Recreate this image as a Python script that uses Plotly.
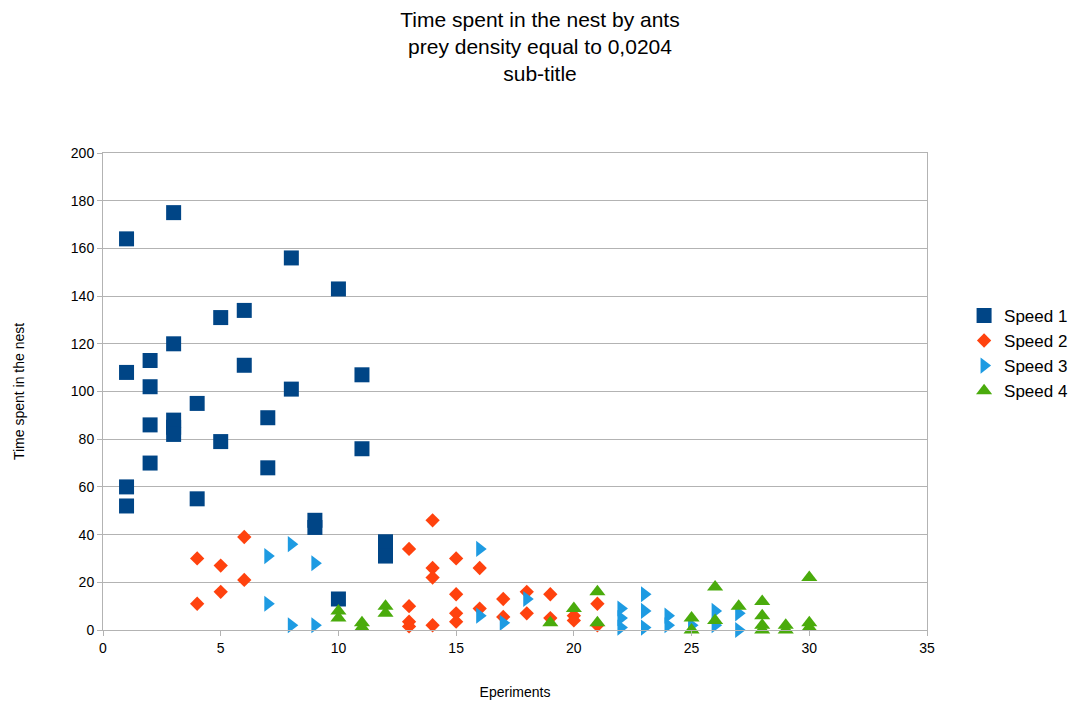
import plotly.graph_objects as go

# ---- data ----
speed1_x = [1, 1, 1, 1, 2, 2, 2, 2, 3, 3, 3, 3, 3, 4, 4, 5, 5, 6, 6, 7, 7, 8, 8, 9, 9, 10, 10, 11, 11, 12, 12]
speed1_y = [164, 108, 60, 52, 113, 102, 86, 70, 175, 120, 88, 85, 82, 95, 55, 131, 79, 134, 111, 89, 68, 156, 101, 46, 43, 143, 13, 107, 76, 37, 31]

speed2_x = [4, 4, 5, 5, 6, 6, 13, 13, 13, 13, 14, 14, 14, 14, 15, 15, 15, 15, 16, 16, 17, 17, 18, 18, 19, 19, 20, 20, 21, 21]
speed2_y = [30, 11, 27, 16, 39, 21, 34, 10, 3.5, 1.5, 46, 26, 22, 2, 30, 15, 7, 3.5, 26, 9, 13, 5.5, 16, 7, 15, 5, 6, 4, 11, 2]

speed3_x = [7, 7, 8, 8, 9, 9, 16, 16, 17, 18, 22, 22, 22, 23, 23, 23, 24, 24, 25, 26, 26, 27, 27]
speed3_y = [31, 11, 36, 2, 28, 2, 34, 6, 3, 13, 9, 5, 1, 15, 8, 1, 6, 2, 2, 8, 2, 7, 0]

speed4_x = [10, 10, 11, 11, 12, 12, 19, 20, 21, 21, 25, 25, 26, 26, 27, 28, 28, 28, 28, 29, 29, 30, 30, 30]
speed4_y = [8, 5, 3, 1, 10, 7, 3, 9, 16, 3, 5, 0, 18, 4, 10, 12, 6, 2, 0, 2, 0, 22, 3, 1]

series_names = ["Speed 1", "Speed 2", "Speed 3", "Speed 4"]
x_ticks = [0, 5, 10, 15, 20, 25, 30, 35]
y_ticks = [0, 20, 40, 60, 80, 100, 120, 140, 160, 180, 200]

title_lines = ["Time spent in the nest by ants", "prey density equal to 0,0204", "sub-title"]
x_title = "Eperiments"
y_title = "Time spent in the nest"

# ---- styles ----
colors = ["#004586", "#ff420e", "#1e9be2", "#4aab0c"]
symbols = ["square", "diamond", "triangle-right", "triangle-up"]
sizes = [15, 11, 14, 14]
FONT = "Liberation Sans, Arial, sans-serif"

fig = go.Figure()
for name, xs, ys, c, s, sz in zip(series_names,
                                  [speed1_x, speed2_x, speed3_x, speed4_x],
                                  [speed1_y, speed2_y, speed3_y, speed4_y],
                                  colors, symbols, sizes):
    fig.add_trace(go.Scatter(x=xs, y=ys, mode="markers", name=name, cliponaxis=False,
                             marker=dict(symbol=s, color=c, size=sz, line=dict(width=0))))

grid = "#b3b3b3"
fig.update_layout(
    width=1080, height=704,
    paper_bgcolor="white", plot_bgcolor="white",
    font=dict(family=FONT, color="#000000", size=13),
    margin=dict(l=103, r=153, t=153, b=74, autoexpand=False),
    title=dict(text="<br>".join(title_lines), x=0.5, xanchor="center",
               y=0.962, yanchor="top", yref="container",
               font=dict(size=21, family=FONT, color="#000000")),
    showlegend=True,
    legend=dict(x=1.045, xanchor="left", y=0.58, yanchor="middle",
                font=dict(size=17, family=FONT, color="#000000"),
                bgcolor="rgba(0,0,0,0)", itemsizing="trace"),
    xaxis=dict(range=[0, 35], tickvals=x_ticks, ticks="outside", ticklen=5,
               tickcolor=grid, showgrid=False, zeroline=False,
               showline=True, linecolor=grid, linewidth=1, mirror=True,
               tickfont=dict(size=14),
               title=dict(text=x_title, standoff=32, font=dict(size=14))),
    yaxis=dict(range=[0, 200], tickvals=y_ticks, ticks="outside", ticklen=5,
               tickcolor=grid, showgrid=True, gridcolor=grid, gridwidth=1,
               zeroline=False, showline=True, linecolor=grid, linewidth=1, mirror=True,
               tickfont=dict(size=14),
               title=dict(text=y_title, standoff=42, font=dict(size=14))),
)

fig.write_html("out.html", config={"displayModeBar": False},
               post_script="document.body.style.margin='0';")
